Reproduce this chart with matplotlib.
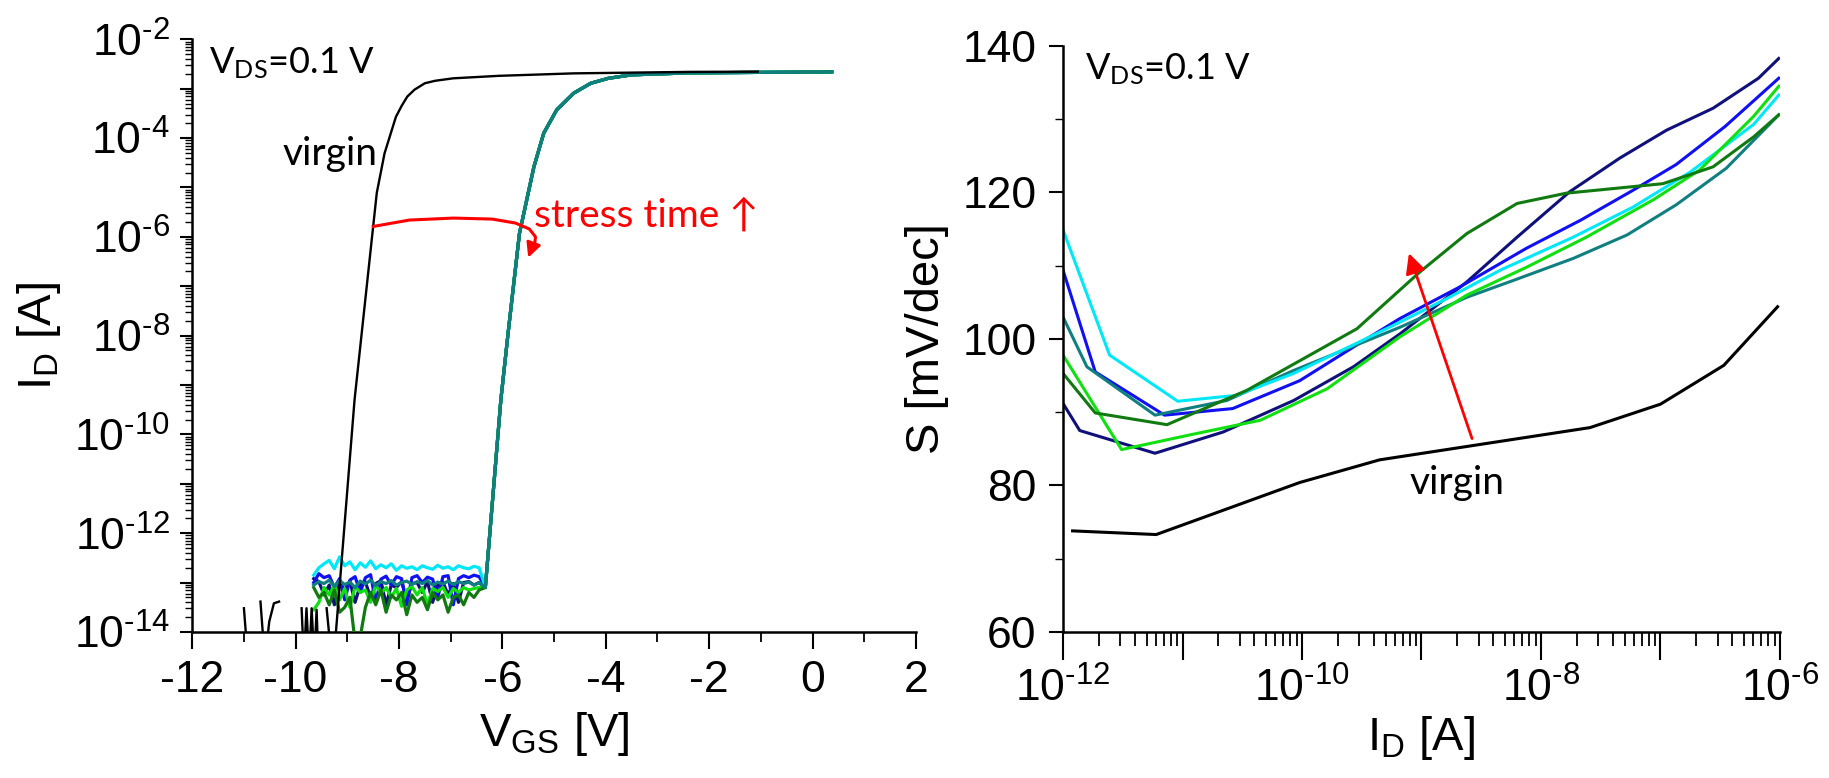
import numpy as np
import matplotlib
matplotlib.use("Agg")
import matplotlib.pyplot as plt
from matplotlib.ticker import LogLocator, FuncFormatter, MultipleLocator, NullFormatter

plt.rcParams['font.family'] = ['Liberation Sans', 'DejaVu Sans']
plt.rcParams['mathtext.fontset'] = 'custom'
plt.rcParams['mathtext.rm'] = 'Liberation Sans'
plt.rcParams['axes.unicode_minus'] = False

# ---------------- transfer curves (left) ----------------
# virgin device: log10(I_D) vs V_GS; NaN separates the noise fragments
virgin_vgs = [-11.00, -10.92, np.nan,
              -10.68, -10.594, -10.51, -10.42, -10.32, np.nan,
              -9.884, -9.84, -9.79, -9.74, -9.69, -9.64, -9.594, -9.56, np.nan,
              -9.40, -9.30, np.nan,
              -9.26, -9.22, -8.86, -8.50, -8.43, -8.28, -8.06, -7.95, -7.84, -7.70,
              -7.50, -7.30, -6.95, -6.07, -4.62, -2.39, -1.06]
virgin_logid = [-13.52, -14.6, np.nan,
                -13.385, -14.6, -13.79, -13.42, -13.385, np.nan,
                -13.52, -14.6, -13.52, -14.6, -13.52, -14.6, -13.55, -14.6, np.nan,
                -13.52, -14.6, np.nan,
                -14.6, -14.0, -9.30, -5.79, -5.11, -4.31, -3.57, -3.35, -3.16, -3.02,
                -2.89, -2.84, -2.79, -2.74, -2.69, -2.66, -2.655]

# stressed devices: off-state noise floor (shared V_GS grid) + turn-on branch
noise_vgs = [-9.65, -9.55, -9.45, -9.35, -9.25, -9.15, -9.05, -8.95, -8.85, -8.75,
             -8.65, -8.55, -8.45, -8.35, -8.25, -8.15, -8.05, -7.95, -7.85, -7.75,
             -7.65, -7.55, -7.45, -7.35, -7.25, -7.15, -7.05, -6.95, -6.85, -6.75,
             -6.65, -6.55, -6.45]
rise_vgs = [-6.33, -6.03, -5.89, -5.67, -5.39, -5.20, -4.95, -4.62, -4.29, -3.95, -3.50, -2.39, 0.37]
rise_logid = [-13.1, -9.30, -7.95, -5.93, -4.58, -3.90, -3.43, -3.09, -2.89, -2.79, -2.72, -2.68, -2.66]

noise_navy = [-12.92, -12.98, -13.25, -13.05, -13.45, -13.00, -13.15, -12.97, -13.40, -13.05,
              -12.99, -13.30, -13.02, -12.96, -13.45, -13.05, -13.10, -12.98, -13.35, -13.02,
              -13.00, -13.20, -12.98, -13.40, -13.05, -12.99, -13.25, -13.02, -13.40, -13.00,
              -12.98, -13.05, -13.00]
noise_blue = [-13.00, -12.82, -12.90, -12.86, -13.10, -12.92, -13.35, -12.95, -12.88, -13.20,
              -12.90, -12.84, -13.40, -12.93, -12.87, -13.05, -12.88, -12.92, -13.45, -12.90,
              -12.86, -13.00, -12.89, -12.93, -13.30, -12.88, -12.86, -13.45, -12.92, -12.86,
              -12.90, -12.85, -12.88]
noise_cyan = [-12.85, -12.70, -12.62, -12.55, -12.72, -12.48, -12.66, -12.58, -12.74, -12.60,
              -12.69, -12.56, -12.72, -12.64, -12.70, -12.62, -12.75, -12.66, -12.71, -12.68,
              -12.74, -12.66, -12.70, -12.73, -12.65, -12.71, -12.68, -12.74, -12.66, -12.70,
              -12.72, -12.67, -12.70]
noise_green = [-13.55, -13.40, -13.10, -13.25, -13.05, -13.35, -13.12, -13.50, -13.08, -13.20,
               -13.15, -13.40, -13.05, -13.22, -13.10, -13.30, -13.12, -13.48, -13.15, -13.08,
               -13.25, -13.10, -13.45, -13.12, -13.18, -13.10, -13.30, -13.12, -13.20, -13.10,
               -13.15, -13.12, -13.10]
noise_dkgreen = [-13.10, -13.30, -13.20, -13.45, -13.15, -13.60, -13.50, -13.30, -14.20, -14.10,
                 -13.50, -13.20, -13.45, -13.15, -13.60, -13.25, -13.35, -13.20, -13.65, -13.25,
                 -13.40, -13.30, -13.55, -13.20, -13.35, -13.25, -13.60, -13.30, -13.25, -13.45,
                 -13.20, -13.30, -13.15]
noise_teal = [-13.05, -12.98, -13.02, -12.95, -13.08, -12.96, -13.04, -12.99, -13.10, -12.97,
              -13.03, -12.95, -13.06, -12.98, -13.02, -12.96, -13.05, -13.00, -12.97, -13.04,
              -12.98, -13.02, -12.96, -13.05, -12.99, -13.03, -12.97, -13.04, -12.98, -13.02,
              -12.99, -13.05, -13.00]

# ---------------- subthreshold swing (right) ----------------
virgin_logi = [-11.92, -11.22, -10.02, -9.35, -8.59, -7.59, -7.00, -6.47, -6.02]
virgin_s = [73.8, 73.3, 80.4, 83.5, 85.4, 87.9, 91.1, 96.4, 104.4]

navy_logi = [-12.0, -11.86, -11.23, -10.66, -10.07, -9.57, -9.18, -8.62, -8.20, -7.76, -7.34, -6.95, -6.56, -6.18, -6.01]
navy_s = [91.2, 87.5, 84.4, 87.3, 91.6, 96.2, 100.7, 107.8, 113.9, 120.1, 124.7, 128.5, 131.5, 135.6, 138.3]
blue_logi = [-12.0, -11.73, -11.15, -10.58, -10.02, -9.52, -9.18, -8.68, -8.12, -7.67, -7.23, -6.87, -6.46, -6.01]
blue_s = [109.4, 95.5, 89.6, 90.5, 94.3, 99.4, 102.8, 107.1, 112.4, 116.2, 120.3, 123.8, 129.0, 135.6]
teal_logi = [-12.0, -11.80, -11.23, -10.63, -10.07, -9.18, -8.62, -8.23, -7.73, -7.28, -6.87, -6.45, -6.01]
teal_s = [103.0, 96.2, 89.6, 91.6, 95.7, 101.6, 105.7, 108.0, 111.0, 114.2, 118.3, 123.3, 130.6]
green_logi = [-12.0, -11.51, -10.91, -10.35, -9.79, -9.18, -8.62, -8.12, -7.62, -7.06, -6.67, -6.22, -6.01]
green_s = [97.8, 84.9, 87.0, 88.9, 93.2, 100.3, 106.0, 109.8, 113.9, 119.0, 123.1, 130.4, 134.5]
cyan_logi = [-12.0, -11.61, -11.04, -10.55, -10.07, -9.52, -9.18, -8.79, -8.34, -7.73, -7.23, -6.75, -6.22, -6.01]
cyan_s = [114.9, 97.8, 91.5, 92.3, 95.3, 99.6, 102.3, 105.5, 109.4, 113.9, 118.0, 122.8, 129.3, 133.3]
dkgreen_logi = [-12.0, -11.73, -11.13, -10.46, -9.54, -9.01, -8.62, -8.20, -7.79, -6.98, -6.56, -6.22, -6.01]
dkgreen_s = [95.3, 89.9, 88.3, 93.0, 101.4, 109.2, 114.4, 118.5, 119.9, 121.2, 123.5, 127.6, 130.6]

C_NAVY, C_BLUE, C_CYAN = '#10107a', '#1010f0', '#00e8f8'
C_GREEN, C_DKGREEN, C_TEAL = '#10e010', '#107a10', '#107f80'

fig = plt.figure(figsize=(18.29, 7.78), dpi=100)
axL = fig.add_axes([0.1051, 0.1877, 0.3957, 0.7618])
axR = fig.add_axes([0.5812, 0.1877, 0.3920, 0.7532])

TICK_FS = 32
LABEL_FS = 34
ANN_FONT = ['Lato', 'DejaVu Sans']


def dec_label(v, pos):
    e = int(round(np.log10(v)))
    if e % 2:
        return ''
    return r'$\mathregular{10^{\text{%d}}}$' % e


for ax in (axL, axR):
    for side in ('top', 'right'):
        ax.spines[side].set_visible(False)
    for side in ('left', 'bottom'):
        ax.spines[side].set_linewidth(1.8)

# ---- left panel ----
axL.plot(virgin_vgs, 10 ** np.array(virgin_logid), color='black', lw=1.7, zorder=5)
for noise, col in ((noise_navy, C_NAVY), (noise_blue, C_BLUE), (noise_cyan, C_CYAN),
                   (noise_green, C_GREEN), (noise_dkgreen, C_DKGREEN), (noise_teal, C_TEAL)):
    vg = list(noise_vgs) + rise_vgs
    lg = list(noise) + rise_logid
    axL.plot(vg, 10 ** np.array(lg), color=col, lw=2.3, zorder=3)

axL.set_yscale('log')
axL.set_xlim(-12, 2)
axL.set_ylim(1e-14, 1e-2)
axL.xaxis.set_major_locator(MultipleLocator(2))
axL.xaxis.set_minor_locator(MultipleLocator(1))
axL.yaxis.set_major_locator(LogLocator(base=10, subs=(1.0,), numticks=20))
axL.yaxis.set_minor_locator(LogLocator(base=10, subs=np.arange(2, 10), numticks=20))
axL.yaxis.set_major_formatter(FuncFormatter(dec_label))
axL.yaxis.set_minor_formatter(NullFormatter())
axL.tick_params(axis='x', which='major', length=12.5, width=1.5, pad=8, labelsize=TICK_FS)
axL.tick_params(axis='x', which='minor', length=7, width=1.3)
axL.tick_params(axis='y', which='major', length=9, width=1.5, pad=7, labelsize=TICK_FS)
axL.tick_params(axis='y', which='minor', length=5, width=1.0)
axL.set_xlabel(r'$\mathregular{V_{GS}}$ [V]', fontsize=LABEL_FS, labelpad=6)
axL.set_ylabel(r'$\mathregular{I_{D}}$ [A]', fontsize=LABEL_FS, labelpad=8)

axL.text(-11.68, 10 ** -2.69, r'$\mathregular{V_{DS}}$=0.1 V', fontsize=26, family=ANN_FONT,
         va='baseline', ha='left')
axL.text(-10.25, 10 ** -4.545, 'virgin', fontsize=28, family=ANN_FONT, va='baseline', ha='left')
axL.text(-5.39, 10 ** -5.80, 'stress time \u2191', fontsize=28, family=ANN_FONT, color='red',
         va='baseline', ha='left')

# curved arrow from the virgin curve to the stressed curves
arc_vgs = [-8.50, -7.80, -6.95, -6.20, -5.75, -5.48, -5.36, -5.38, -5.45]
arc_logid = [-5.79, -5.66, -5.62, -5.64, -5.72, -5.84, -6.00, -6.18, -6.30]
axL.plot(arc_vgs, 10 ** np.array(arc_logid), color='red', lw=2.2, zorder=6)
axL.annotate('', xy=(-5.50, 10 ** -6.42), xytext=(-5.45, 10 ** -6.28),
             arrowprops=dict(arrowstyle='-|>', color='red', lw=2, mutation_scale=22,
                             shrinkA=0, shrinkB=0), zorder=6)

# ---- right panel ----
for lx, s, col in ((navy_logi, navy_s, C_NAVY), (blue_logi, blue_s, C_BLUE),
                   (teal_logi, teal_s, C_TEAL), (cyan_logi, cyan_s, C_CYAN),
                   (green_logi, green_s, C_GREEN), (dkgreen_logi, dkgreen_s, C_DKGREEN)):
    axR.plot(10 ** np.array(lx), s, color=col, lw=2.2)
axR.plot(10 ** np.array(virgin_logi), virgin_s, color='black', lw=2.2)

axR.set_xscale('log')
axR.set_xlim(1e-12, 1e-6)
axR.set_ylim(60, 140)
axR.xaxis.set_major_locator(LogLocator(base=10, subs=(1.0,), numticks=20))
axR.xaxis.set_minor_locator(LogLocator(base=10, subs=np.arange(2, 10), numticks=20))
axR.xaxis.set_major_formatter(FuncFormatter(dec_label))
axR.xaxis.set_minor_formatter(NullFormatter())
axR.yaxis.set_major_locator(MultipleLocator(20))
axR.yaxis.set_minor_locator(MultipleLocator(10))
axR.tick_params(axis='x', which='major', length=20, width=1.5, pad=6, labelsize=TICK_FS)
axR.tick_params(axis='x', which='minor', length=10, width=1.3)
axR.tick_params(axis='y', which='major', length=10, width=1.5, pad=9, labelsize=TICK_FS)
axR.tick_params(axis='y', which='minor', length=6, width=1.0)
axR.set_xlabel(r'$\mathregular{I_{D}}$ [A]', fontsize=LABEL_FS, labelpad=2)
axR.set_ylabel('S [mV/dec]', fontsize=LABEL_FS, labelpad=10)

axR.text(10 ** -11.82, 135.4, r'$\mathregular{V_{DS}}$=0.1 V', fontsize=26, family=ANN_FONT,
         va='baseline', ha='left')
axR.text(10 ** -9.096, 78.9, 'virgin', fontsize=28, family=ANN_FONT, va='baseline', ha='left')
axR.annotate('', xy=(10 ** -9.105, 111.7), xytext=(10 ** -8.577, 86.4),
             arrowprops=dict(arrowstyle='-|>', color='red', lw=2, mutation_scale=30,
                             shrinkA=0, shrinkB=0))

fig.savefig('out.png', dpi=100)
